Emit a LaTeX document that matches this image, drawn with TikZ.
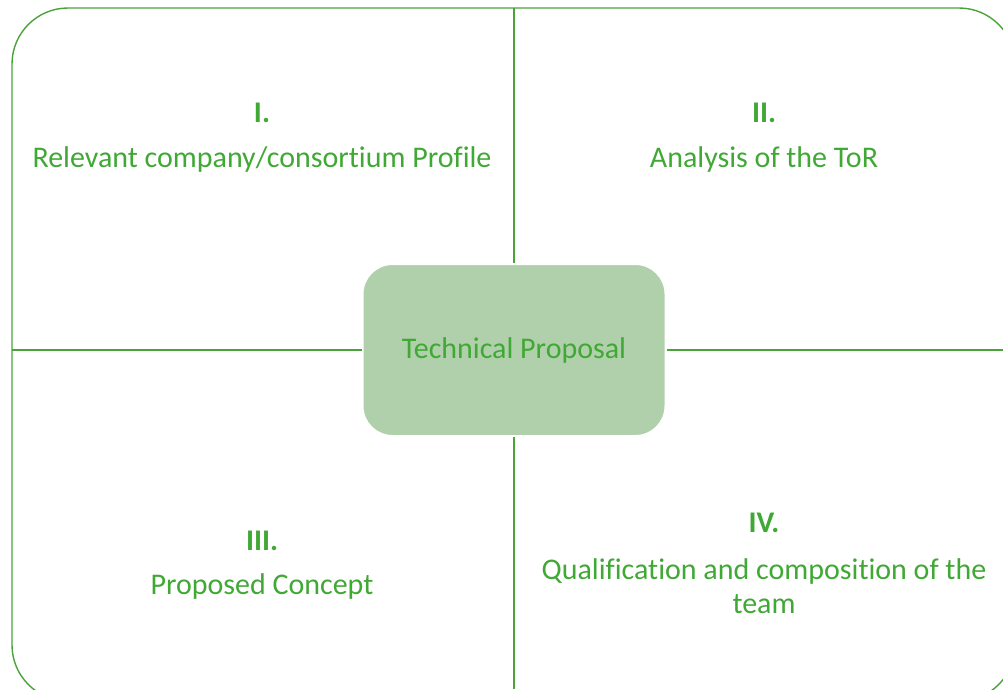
\documentclass[tikz,border=0pt]{standalone}
\usepackage{fontspec}
\setmainfont[Ligatures=NoCommon]{Carlito}
\usetikzlibrary{positioning}
\definecolor{leafgreen}{RGB}{74,163,58}
\definecolor{textgreen}{RGB}{64,168,52}
\definecolor{boxgreen}{RGB}{176,208,171}
\tikzset{
  quadtitle/.style={text=textgreen, font=\fontsize{30}{34}\selectfont, align=center},
  divider/.style={leafgreen, line width=1.4pt},
}

\begin{document}
\begin{tikzpicture}[x=1pt, y=-1pt]
	\useasboundingbox (0,0) rectangle (1003,689);
	\begin{scope}
	\clip (0,0) rectangle (1003,689);
	\draw[divider, rounded corners=56pt] (12,8) rectangle (1015,701);
	\end{scope}
	% border points
	\coordinate (top) at (514,8);
	\coordinate (bottom) at (514,689);
	\coordinate (left) at (12,350);
	\coordinate (right) at (1003,350);
	% centre box
	\node[fill=boxgreen, draw=white, line width=2pt, rounded corners=30pt, minimum width=303pt, minimum height=172pt, text=textgreen, font=\fontsize{30}{34}\selectfont] (tp) at (514,350) {Technical Proposal};
	\draw[divider] (top) -- (tp.north);
	\draw[divider] (tp.south) -- (bottom);
	\draw[divider] (left) -- (tp.west);
	\draw[divider] (tp.east) -- (right);
	% quadrants
	\node[quadtitle] (q1) at (262,113) {\textbf{I.}};
	\node[quadtitle] (q1t) at (262,159) {Relevant company/consortium Profile};
	\node[quadtitle] (q2) at (764,113) {\textbf{II.}};
	\node[quadtitle] (q2t) at (764,159) {Analysis of the ToR};
	\node[quadtitle] (q3) at (262,541) {\textbf{III.}};
	\node[quadtitle] (q3t) at (262,586) {Proposed Concept};
	\node[quadtitle] (q4) at (764,523) {\textbf{IV.}};
	\node[quadtitle] (q4t) at (764,586) {Qualification and composition of the\\team};
\end{tikzpicture}
\end{document}
